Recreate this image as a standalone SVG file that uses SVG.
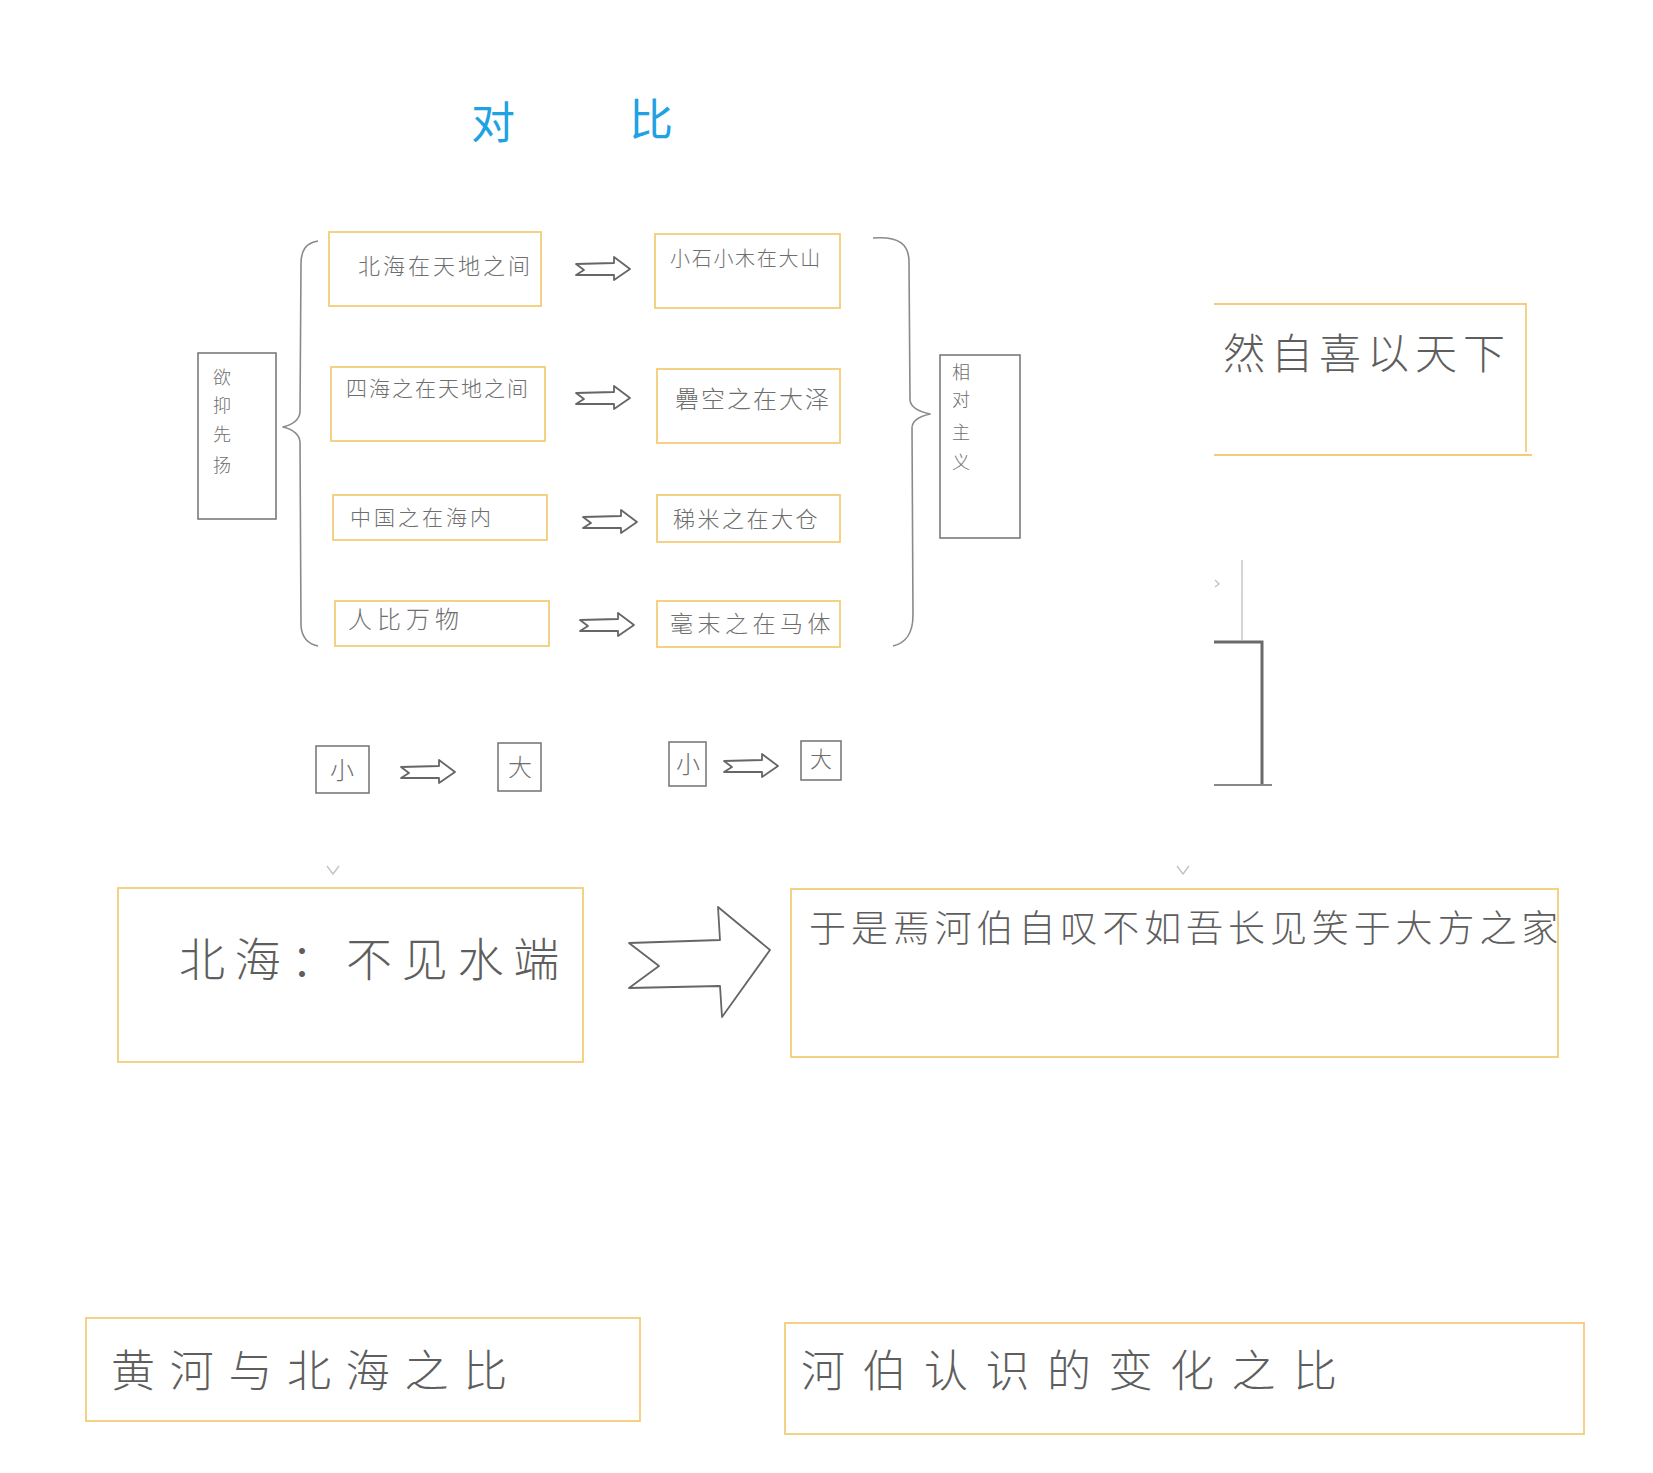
<svg xmlns="http://www.w3.org/2000/svg" width="1653" height="1473" viewBox="0 0 1653 1473">
<style>
.ob{fill:none;stroke:#f3cd78;stroke-width:1.8}
.pb{fill:none;stroke:#7a7a7a;stroke-width:1.6}
.t{font-family:"Noto Sans CJK SC","Noto Sans CJK TC",sans-serif;fill:#5e5e5e;font-weight:300}
.ts{font-family:"Noto Sans CJK SC","Noto Sans CJK TC",sans-serif;fill:#6e6e6e;font-weight:300}
.title{font-family:"Noto Sans CJK SC",sans-serif;fill:#1ea2e3;font-size:44px}
.br{fill:none;stroke:#8a8a8a;stroke-width:1.6;stroke-linejoin:round}
.ar{fill:none;stroke:#666;stroke-width:1.8;stroke-linejoin:round}
.faint{fill:none;stroke:#c4c4c4;stroke-width:1.4}
.dark{fill:none;stroke:#6a6a6a;stroke-width:3}
</style>
<defs>
<path id="sa" d="M0,-5 L38,-6 L38,-12 L54,0 L38,11 L38,6 L0,6 L8,1 Z"/>
</defs>
<rect width="1653" height="1473" fill="#fff"/>

<g id="title">
<text class="title" x="471" y="139">对</text>
<text class="title" x="629" y="136">比</text>
</g>

<g id="n-yiyi">
<rect class="pb" x="198" y="353" width="78" height="166"/>
<text class="ts" font-size="18" text-anchor="middle"><tspan x="222" y="384">欲</tspan><tspan x="222" y="412">抑</tspan><tspan x="222" y="441">先</tspan><tspan x="222" y="472">扬</tspan></text>
</g>

<g id="n-l1"><rect class="ob" x="329" y="232" width="212" height="74"/><text class="ts" x="358" y="274" font-size="22" letter-spacing="3">北海在天地之间</text></g>
<g id="n-l2"><rect class="ob" x="331" y="367" width="214" height="74"/><text class="ts" x="346" y="396" font-size="21" letter-spacing="2">四海之在天地之间</text></g>
<g id="n-l3"><rect class="ob" x="333" y="495" width="214" height="45"/><text class="ts" x="350" y="525" font-size="21" letter-spacing="3">中国之在海内</text></g>
<g id="n-l4"><rect class="ob" x="335" y="601" width="214" height="45"/><text class="ts" x="348" y="628" font-size="24" letter-spacing="5">人比万物</text></g>

<g id="n-r1"><rect class="ob" x="655" y="234" width="185" height="74"/><text class="ts" x="670" y="266" font-size="20" letter-spacing="1.7">小石小木在大山</text></g>
<g id="n-r2"><rect class="ob" x="657" y="369" width="183" height="74"/><text class="ts" x="675" y="408" font-size="24" letter-spacing="2">礨空之在大泽</text></g>
<g id="n-r3"><rect class="ob" x="657" y="495" width="183" height="47"/><text class="ts" x="673" y="527" font-size="22" letter-spacing="2.5">稊米之在大仓</text></g>
<g id="n-r4"><rect class="ob" x="657" y="601" width="183" height="46"/><text class="ts" x="670" y="632" font-size="23" letter-spacing="4.5">毫末之在马体</text></g>

<g id="n-xiangdui">
<rect class="pb" x="940" y="355" width="80" height="183"/>
<text class="ts" font-size="18" text-anchor="middle"><tspan x="961" y="379">相</tspan><tspan x="961" y="406">对</tspan><tspan x="961" y="439">主</tspan><tspan x="961" y="469">义</tspan></text>
</g>

<g id="n-ranzixi">
<path class="ob" d="M1214,304 L1526,304 L1526,452 M1214,455 L1532,455"/>
<text class="t" x="1223" y="369" font-size="42" letter-spacing="6">然自喜以天下</text>
</g>

<g id="n-x1"><rect class="pb" x="316" y="746" width="53" height="47"/><text class="ts" x="342" y="779" font-size="24" text-anchor="middle">小</text></g>
<g id="n-d1"><rect class="pb" x="498" y="743" width="43" height="48"/><text class="ts" x="520" y="776" font-size="24" text-anchor="middle">大</text></g>
<g id="n-x2"><rect class="pb" x="669" y="742" width="37" height="44"/><text class="ts" x="688" y="773" font-size="24" text-anchor="middle">小</text></g>
<g id="n-d2"><rect class="pb" x="801" y="741" width="40" height="39"/><text class="ts" x="821" y="767" font-size="22" text-anchor="middle">大</text></g>

<g id="n-beihai">
<rect class="ob" x="118" y="888" width="465" height="174"/>
<text class="t" x="179" y="976" font-size="46" letter-spacing="9.7">北海：不见水端</text>
</g>

<g id="n-hebo">
<rect class="ob" x="791" y="889" width="767" height="168"/>
<text class="t" x="809" y="942" font-size="37" letter-spacing="4.9">于是焉河伯自叹不如吾长见笑于大方之家</text>
</g>

<g id="n-bottom1">
<rect class="ob" x="86" y="1318" width="554" height="103"/>
<text class="t" x="111" y="1387" font-size="44" letter-spacing="14.7">黄河与北海之比</text>
</g>

<g id="n-bottom2">
<rect class="ob" x="785" y="1323" width="799" height="111"/>
<text class="t" x="801" y="1387" font-size="44" letter-spacing="17.5">河伯认识的变化之比</text>
</g>

<g id="connectors">
<path class="br" d="M318,241 C306,243 301,250 301,264 L300,412 Q299,423 283,427 Q299,431 300,442 L301,626 C302,638 308,644 318,646"/>
<path class="br" d="M873,238 C900,236 909,245 909,262 L910,400 Q911,410 930,414 Q912,418 912,428 L913,615 C913,635 905,643 893,646"/>
<use href="#sa" class="ar" x="576" y="269"/>
<use href="#sa" class="ar" x="576" y="398"/>
<use href="#sa" class="ar" x="583" y="522"/>
<use href="#sa" class="ar" x="580" y="625"/>
<use href="#sa" class="ar" x="401" y="772"/>
<use href="#sa" class="ar" x="724" y="766"/>
<path class="ar" d="M629,943 L720,940 L718,907 L770,950 L722,1017 L720,986 L629,988 L659,966 Z"/>
<path class="faint" d="M327,866 L333,874 L339,866 M1177,866 L1183,874 L1189,866"/>
<path class="faint" d="M1242,560 L1242,640 M1215,580 L1219,584 L1215,587"/>
<path class="dark" d="M1214,642 L1262,642 L1262,784"/>
<path class="faint" d="M1214,785 L1272,785" style="stroke:#888;stroke-width:2"/>
</g>
</svg>
